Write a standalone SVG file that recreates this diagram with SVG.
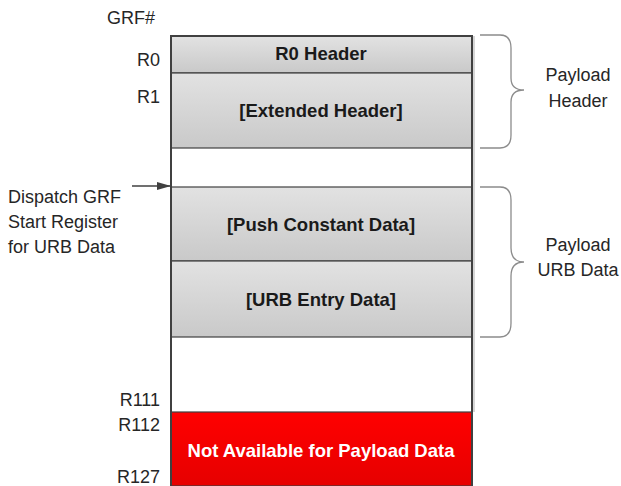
<svg xmlns="http://www.w3.org/2000/svg" width="621" height="486" viewBox="0 0 621 486">
<style>
.lbl{font-family:"Liberation Sans",Arial,sans-serif;font-size:18px;fill:#262626}
.b{font-family:"Liberation Sans",Arial,sans-serif;font-size:18.5px;font-weight:bold;fill:#1a1a1a;text-anchor:middle}
.gray{fill:url(#g);stroke:#404040;stroke-width:1.2}
.brace{fill:none;stroke:#8c8c8c;stroke-width:1.3}
</style>
<defs>
<linearGradient id="g" x1="0" y1="0" x2="0" y2="1"><stop offset="0" stop-color="#e2e2e2"/><stop offset="1" stop-color="#c9c9c9"/></linearGradient>
<linearGradient id="r" x1="0" y1="0" x2="0" y2="1"><stop offset="0" stop-color="#ff0000"/><stop offset="1" stop-color="#e60000"/></linearGradient>
<marker id="ah" markerWidth="14" markerHeight="8" refX="13" refY="4" orient="auto" markerUnits="userSpaceOnUse"><path d="M0,0 L14,4 L0,8 Z" fill="#404040"/></marker>
</defs>
<rect width="621" height="486" fill="#fff"/>
<g id="labels">
<text class="lbl" x="155" y="24" text-anchor="end">GRF#</text>
<text class="lbl" x="160" y="66" text-anchor="end">R0</text>
<text class="lbl" x="160" y="103" text-anchor="end">R1</text>
<text class="lbl" x="160" y="406" text-anchor="end">R111</text>
<text class="lbl" x="160" y="431" text-anchor="end">R112</text>
<text class="lbl" x="160" y="483" text-anchor="end">R127</text>
</g>
<g id="grf">
<rect x="171" y="36" width="301" height="450" fill="#fff" stroke="#404040" stroke-width="2"/>
<line x1="474" y1="36" x2="474" y2="412" stroke="#c8c8c8" stroke-width="1.5"/>
</g>
<g id="r0"><rect class="gray" x="171" y="36" width="301" height="37"/><text class="b" x="321" y="60">R0 Header</text></g>
<g id="ext"><rect class="gray" x="171" y="73" width="301" height="75"/><text class="b" x="321" y="117">[Extended Header]</text></g>
<g id="push"><rect class="gray" x="171" y="187" width="301" height="74"/><text class="b" x="321" y="231">[Push Constant Data]</text></g>
<g id="urb"><rect class="gray" x="171" y="261" width="301" height="76"/><text class="b" x="321" y="306">[URB Entry Data]</text></g>
<g id="na"><rect x="171" y="412" width="301" height="74" fill="url(#r)" stroke="#404040" stroke-width="1.2"/><text class="b" x="321" y="457" style="fill:#fff">Not Available for Payload Data</text></g>
<g id="outline"><rect x="171" y="36" width="301" height="460" fill="none" stroke="#404040" stroke-width="2"/></g>
<g id="connectors">
<line x1="132" y1="186" x2="170" y2="186" stroke="#404040" stroke-width="1.3" marker-end="url(#ah)"/>
<path class="brace" d="M480,35 L500,35 Q511,35 511,48 L511,78 Q511,90 524,90 Q511,90 511,102 L511,135 Q511,148 500,148 L480,148"/>
<path class="brace" d="M480,187 L500,187 Q511,187 511,200 L511,248 Q511,262 524,262 Q511,262 511,276 L511,323 Q511,337 500,337 L480,337"/>
</g>
<g id="dispatch">
<text class="lbl" x="8" y="203">Dispatch GRF</text>
<text class="lbl" x="8" y="228">Start Register</text>
<text class="lbl" x="8" y="253">for URB Data</text>
</g>
<g id="payload-header">
<text class="lbl" x="578" y="81" text-anchor="middle">Payload</text>
<text class="lbl" x="578" y="107" text-anchor="middle">Header</text>
</g>
<g id="payload-urb">
<text class="lbl" x="578" y="251" text-anchor="middle">Payload</text>
<text class="lbl" x="578" y="276" text-anchor="middle">URB Data</text>
</g>
</svg>
